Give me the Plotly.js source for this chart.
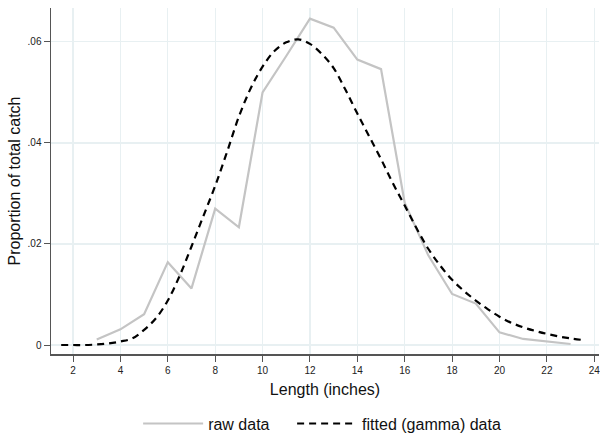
<!DOCTYPE html>
<html>
<head>
<meta charset="utf-8">
<script src="https://cdn.plot.ly/plotly-3.0.1.min.js"></script>
<style>html,body{margin:0;padding:0;background:#fff;}#chart{width:600px;height:434px;}</style>
</head>
<body>
<div id="chart"></div>
<script>
// Raw observed proportions by length (inches)
const rawLength = [3, 4, 5, 6, 7, 8, 9, 10, 11, 12, 13, 14, 15, 16, 17, 18, 19, 20, 21, 22, 23];
const rawProp = [0.0011, 0.0031, 0.0061, 0.0164, 0.0112, 0.0270, 0.0233, 0.0500, 0.0572, 0.0646, 0.0628, 0.0565, 0.0546, 0.0281, 0.0177, 0.0101, 0.0082, 0.0025, 0.0012, 0.0007, 0.0002];

// Fitted (gamma) curve
const fitLength = [1.5, 2, 2.5, 3, 3.5, 4, 4.5, 5, 5.5, 6, 6.5, 7, 7.5, 8, 8.5, 9, 9.5, 10, 10.5, 11, 11.5, 12, 12.5, 13, 13.5, 14, 14.5, 15, 15.5, 16, 16.5, 17, 17.5, 18, 18.5, 19, 19.5, 20, 20.5, 21, 21.5, 22, 22.5, 23, 23.5];
const fitProp = [0.0000, 0.0000, 0.0000, 0.0001, 0.0003, 0.0007, 0.0013, 0.0030, 0.0053, 0.0088, 0.0137, 0.0195, 0.0255, 0.0315, 0.0382, 0.0452, 0.0508, 0.0551, 0.0582, 0.0599, 0.0605, 0.0596, 0.0576, 0.0548, 0.0505, 0.0458, 0.0413, 0.0368, 0.0320, 0.0276, 0.0231, 0.0190, 0.0157, 0.0129, 0.0107, 0.0088, 0.0071, 0.0056, 0.0044, 0.0035, 0.0028, 0.0022, 0.0017, 0.0013, 0.0010];

const xTicks = [2, 4, 6, 8, 10, 12, 14, 16, 18, 20, 22, 24];
const yTicks = [0, 0.02, 0.04, 0.06];
const yTickLabels = ['0', '.02', '.04', '.06'];

const font = 'Liberation Sans, Arial, sans-serif';

const traces = [
  {x: rawLength, y: rawProp, type: 'scatter', mode: 'lines', name: 'raw data', legend: 'legend',
   line: {color: '#c4c4c4', width: 2.2}},
  {x: fitLength, y: fitProp, type: 'scatter', mode: 'lines', name: 'fitted (gamma) data', legend: 'legend2',
   line: {color: '#000000', width: 2.2, dash: '7px,5px', shape: 'spline'}}
];

const legendStyle = {orientation: 'h', xanchor: 'left', yref: 'container', y: 0.024, yanchor: 'middle',
  font: {size: 16, family: font, color: '#111'}, itemwidth: 60, bgcolor: 'rgba(0,0,0,0)'};

const layout = {
  width: 600, height: 434,
  margin: {l: 51, r: 1, t: 8, b: 80, autoexpand: false},
  paper_bgcolor: '#ffffff', plot_bgcolor: '#ffffff',
  font: {family: font, color: '#222'},
  showlegend: true,
  legend: Object.assign({}, legendStyle, {x: 0.159}),
  legend2: Object.assign({}, legendStyle, {x: 0.440}),
  xaxis: {
    range: [1.07, 24.2], tickvals: xTicks, ticktext: xTicks.map(String),
    showgrid: true, gridcolor: '#e8f0f2', gridwidth: 1.2, zeroline: false,
    showline: true, linecolor: '#555', linewidth: 1.5,
    ticks: 'outside', ticklen: 6, tickcolor: '#555', tickwidth: 1,
    ticklabeloverflow: 'allow',
    tickfont: {size: 10, family: font, color: '#222'},
    title: {text: 'Length (inches)', font: {size: 16, family: font, color: '#111'}, standoff: 9}
  },
  yaxis: {
    range: [-0.00178, 0.0667], tickvals: yTicks, ticktext: yTickLabels,
    showgrid: true, gridcolor: '#e8f0f2', gridwidth: 1.2, zeroline: false,
    showline: true, linecolor: '#555', linewidth: 1.5,
    ticks: 'outside', ticklen: 6, tickcolor: '#555', tickwidth: 1,
    tickfont: {size: 10, family: font, color: '#222'},
    title: {text: 'Proportion of total catch', font: {size: 16, family: font, color: '#111'}, standoff: 3}
  }
};

Plotly.newPlot('chart', traces, layout, {displayModeBar: false, staticPlot: true});
</script>
</body>
</html>
